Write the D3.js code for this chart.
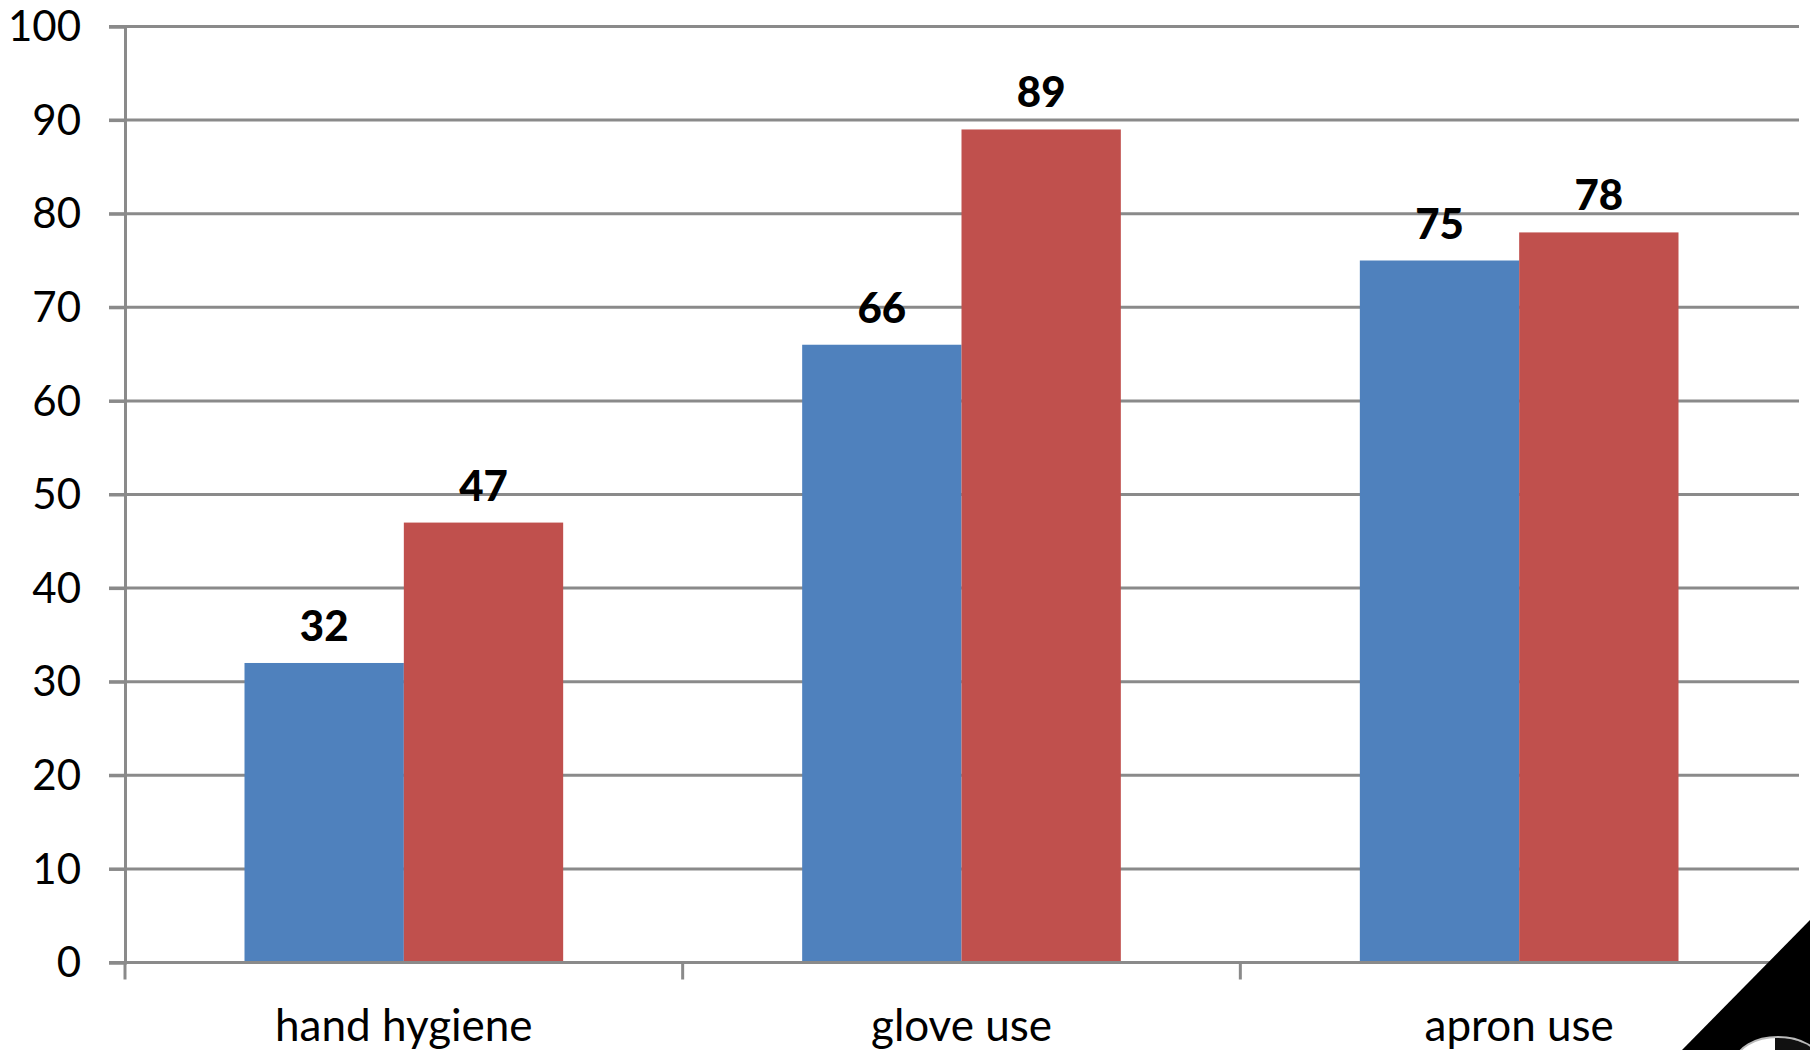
<!DOCTYPE html>
<html>
<head>
<meta charset="utf-8">
<script src="https://cdn.jsdelivr.net/npm/d3@7"></script>
<style>
  html, body { margin: 0; padding: 0; background: #fff; }
  svg { display: block; }
  text { font-family: Lato, "Open Sans", sans-serif; fill: #000; }
</style>
</head>
<body>
<svg id="chart" width="1810" height="1050"></svg>
<script>
// Compliance (%) by practice, two series per category
const categories = ["hand hygiene", "glove use", "apron use"];
const seriesNames = ["first", "second"];
const seriesA = [32, 66, 75];
const seriesB = [47, 89, 78];
const yTicks = [0, 10, 20, 30, 40, 50, 60, 70, 80, 90, 100];
const colors = ["#4F81BD", "#C0504D"];

const svg = d3.select("#chart");
const plotLeft = 125, plotRight = 1798, plotTop = 26.5, plotBottom = 962.5;
const gridColor = "#8a8a8a";

const x0 = d3.scaleBand().domain(categories).range([plotLeft, plotRight]).paddingInner(0).paddingOuter(0);
const x1 = d3.scaleBand().domain(seriesNames)
  .range([0, x0.bandwidth()]).paddingInner(0).paddingOuter(0.75);
const y = d3.scaleLinear().domain([0, 100]).range([plotBottom, plotTop]);

// horizontal gridlines with left tick stubs
svg.append("g").selectAll("line").data(yTicks.filter(d => d > 0)).join("line")
  .attr("x1", plotLeft - 16).attr("x2", plotRight + 1)
  .attr("y1", d => y(d)).attr("y2", d => y(d))
  .attr("stroke", gridColor).attr("stroke-width", 3);

// y axis
const yAxis = d3.axisLeft(y).tickValues(yTicks).tickSize(16).tickPadding(28).tickFormat(d3.format("d"));
const gy = svg.append("g").attr("transform", `translate(${plotLeft},0)`).call(yAxis);
gy.select(".domain").attr("stroke", gridColor).attr("stroke-width", 3);
gy.selectAll(".tick line").attr("stroke", gridColor).attr("stroke-width", 3);
gy.selectAll(".tick text").attr("font-size", 42).attr("font-family", "Lato").attr("fill", "#000")
  .attr("dy", "0.34em");

// bars
const rows = categories.map((c, i) => ({ cat: c, vals: [seriesA[i], seriesB[i]] }));
const groups = svg.append("g").selectAll("g").data(rows).join("g")
  .attr("transform", d => `translate(${x0(d.cat)},0)`);
groups.selectAll("rect").data(d => d.vals.map((v, j) => ({ s: seriesNames[j], v, j }))).join("rect")
  .attr("x", d => x1(d.s)).attr("width", x1.bandwidth())
  .attr("y", d => y(d.v)).attr("height", d => y(0) - y(d.v))
  .attr("fill", d => colors[d.j]);

// value labels
groups.selectAll("text.val").data(d => d.vals.map((v, j) => ({ s: seriesNames[j], v }))).join("text")
  .attr("class", "val")
  .attr("x", d => x1(d.s) + x1.bandwidth() / 2)
  .attr("y", d => y(d.v) - 22)
  .attr("text-anchor", "middle")
  .attr("font-size", 42).attr("font-weight", 900)
  .text(d => d.v);

// x axis
const xAxis = d3.axisBottom(x0).tickSize(0).tickPadding(0);
const gx = svg.append("g").attr("transform", `translate(0,${plotBottom})`).call(xAxis);
gx.select(".domain").remove();
gx.selectAll(".tick text").attr("font-size", 44).attr("fill", "#000").attr("y", 78).attr("dy", 0);
svg.append("line").attr("x1", plotLeft - 16).attr("x2", plotRight + 1)
  .attr("y1", plotBottom).attr("y2", plotBottom).attr("stroke", gridColor).attr("stroke-width", 3);
const edges = categories.map(c => x0(c)).concat([plotRight]);
svg.append("g").selectAll("line").data(edges).join("line")
  .attr("x1", d => d).attr("x2", d => d).attr("y1", plotBottom).attr("y2", plotBottom + 17)
  .attr("stroke", gridColor).attr("stroke-width", 3);

// corner badge
svg.append("path").attr("d", "M1810,920 L1810,1050 L1682,1050 Z").attr("fill", "#000");
const badge = svg.append("g");
badge.append("ellipse").attr("cx", 1778).attr("cy", 1062).attr("rx", 42).attr("ry", 25)
  .attr("fill", "#fff").attr("stroke", "#bbb").attr("stroke-width", 2);
badge.append("path").attr("d", "M1775,1038 A42,25 0 0 1 1820,1062 L1775,1062 Z").attr("fill", "#111");
</script>
</body>
</html>
